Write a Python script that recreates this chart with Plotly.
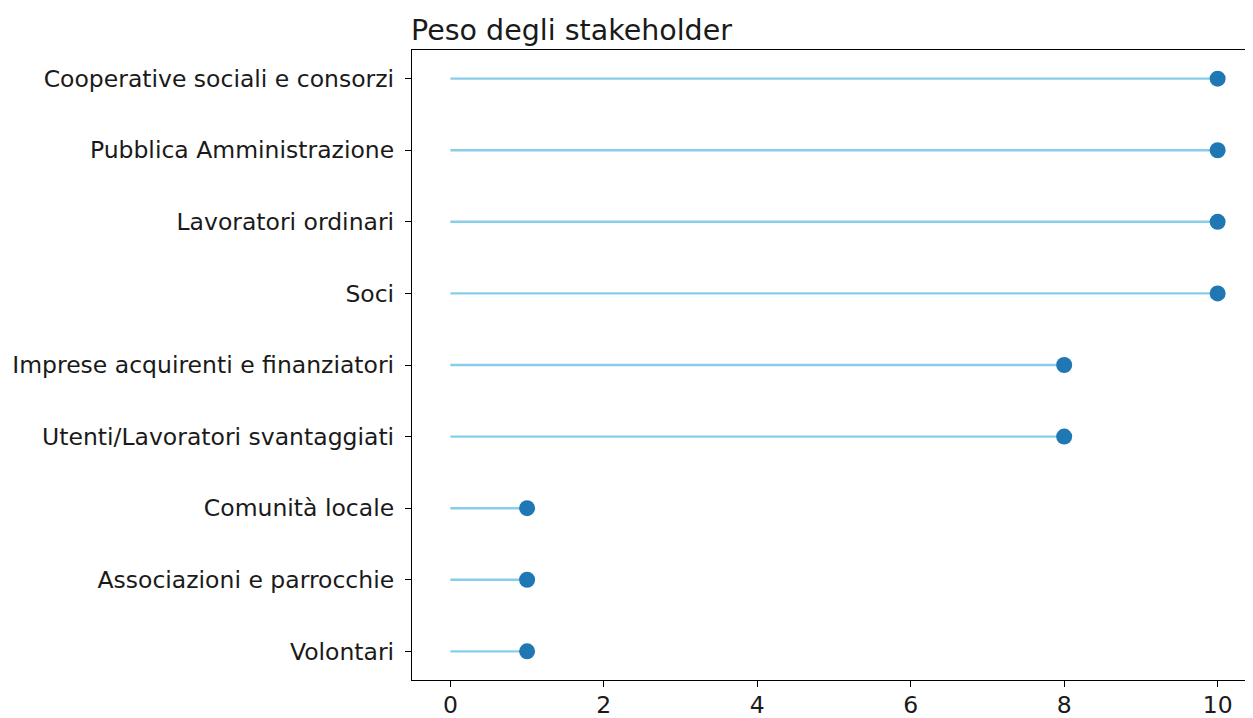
import plotly.graph_objects as go

categories = [
    "Volontari",
    "Associazioni e parrocchie",
    "Comunità locale",
    "Utenti/Lavoratori svantaggiati",
    "Imprese acquirenti e finanziatori",
    "Soci",
    "Lavoratori ordinari",
    "Pubblica Amministrazione",
    "Cooperative sociali e consorzi",
]
values = [1, 1, 1, 8, 8, 10, 10, 10, 10]
x_ticks = [0, 2, 4, 6, 8, 10]

line_x, line_y = [], []
for c, v in zip(categories, values):
    line_x += [0, v, None]
    line_y += [c, c, None]

fig = go.Figure()
fig.add_trace(go.Scatter(x=line_x, y=line_y, mode="lines",
                         line=dict(color="#87CEEB", width=2.4),
                         hoverinfo="skip", showlegend=False))
fig.add_trace(go.Scatter(x=values, y=categories, mode="markers",
                         marker=dict(color="#1f77b4", size=16),
                         showlegend=False))

font = "DejaVu Sans, sans-serif"
W, H = 1248, 710
fig.update_layout(
    width=W, height=H,
    margin=dict(l=404, r=0, t=42, b=38, pad=0),
    plot_bgcolor="white", paper_bgcolor="white",
    font=dict(family=font, size=23.5, color="#1a1a1a"),
    title=dict(text="Peso degli stakeholder", x=403/W, xanchor="left",
               y=1 - 22/H, yanchor="middle",
               font=dict(family=font, size=28.5, color="#1a1a1a")),
)
fig.update_xaxes(range=[-0.5, 10.5], tickvals=x_ticks, ticks="outside",
                 ticklen=6, tickwidth=1.3, tickcolor="black",
                 ticklabelstandoff=-2, automargin=False,
                 showgrid=False, zeroline=False, showline=True,
                 linecolor="black", linewidth=1.3, mirror=True)
fig.update_yaxes(type="category", categoryorder="array", categoryarray=categories,
                 range=[-0.4, 8.4], ticks="outside", ticklen=6, tickwidth=1.3,
                 ticklabelstandoff=6, automargin=False,
                 tickcolor="black", showgrid=False, zeroline=False,
                 showline=True, linecolor="black", linewidth=1.3, mirror=True)

fig.write_html("out.html")
